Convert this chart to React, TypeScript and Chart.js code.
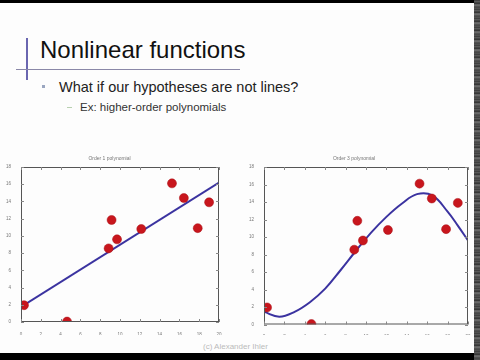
import React, { useEffect, useRef } from "react";
import { Chart, registerables } from "chart.js";

Chart.register(...registerables);

const pointsX = [0.3, 4.65, 8.85, 9.15, 9.7, 12.15, 15.25, 16.45, 17.85, 19.0];
const pointsY = [1.95, 0.05, 8.55, 11.85, 9.6, 10.8, 16.1, 14.4, 10.9, 13.9];

const lineX = [0, 20];
const lineY = [1.75, 16.2];

const curveX = [0, 1.5, 3, 4.5, 6, 7.5, 9, 10.5, 12, 13.5, 15, 16.5, 18, 19, 20];
const curveY = [1.45, 0.9, 1.45, 2.55, 4.1, 6.2, 8.4, 10.5, 12.3, 13.8, 14.9, 14.75, 12.9, 11.3, 9.6];

const xTicks = [0, 2, 4, 6, 8, 10, 12, 14, 16, 18, 20];
const yTicks = [0, 2, 4, 6, 8, 10, 12, 14, 16, 18];

const titles = ["Order 1 polynomial", "Order 3 polynomial"];

const boxPlugin = {
  id: "matlabBox",
  afterDraw(chart: any) {
    const { ctx, chartArea: a, scales } = chart;
    ctx.save();
    ctx.strokeStyle = "#555";
    ctx.lineWidth = 1;
    ctx.strokeRect(a.left + 0.5, a.top + 0.5, a.right - a.left - 1, a.bottom - a.top - 1);
    ctx.strokeStyle = "#888";
    xTicks.forEach((t) => {
      const px = Math.round(scales.x.getPixelForValue(t)) + 0.5;
      ctx.beginPath();
      ctx.moveTo(px, a.bottom);
      ctx.lineTo(px, a.bottom - 3);
      ctx.moveTo(px, a.top);
      ctx.lineTo(px, a.top + 3);
      ctx.stroke();
    });
    yTicks.forEach((t) => {
      const py = Math.round(scales.y.getPixelForValue(t)) + 0.5;
      ctx.beginPath();
      ctx.moveTo(a.left, py);
      ctx.lineTo(a.left + 3, py);
      ctx.moveTo(a.right, py);
      ctx.lineTo(a.right - 3, py);
      ctx.stroke();
    });
    ctx.restore();
  },
};

function makeConfig(fitX: number[], fitY: number[], title: string, yW: number, xH: number, padR: number, tension: number) {
  return {
    type: "scatter" as const,
    data: {
      datasets: [
        {
          type: "line" as const,
          data: fitX.map((x, i) => ({ x, y: fitY[i] })),
          borderColor: "#3b33a0",
          borderWidth: 2,
          pointRadius: 0,
          tension,
          fill: false,
          order: 2,
        },
        {
          data: pointsX.map((x, i) => ({ x, y: pointsY[i] })),
          backgroundColor: "#c8161d",
          borderColor: "#a80e14",
          borderWidth: 0.5,
          pointRadius: 4.5,
          order: 1,
        },
      ],
    },
    options: {
      animation: false as const,
      responsive: false,
      maintainAspectRatio: false,
      layout: { padding: { left: 0, right: padR, top: 0, bottom: 0 } },
      plugins: {
        legend: { display: false },
        tooltip: { enabled: false },
        title: {
          display: true,
          text: title,
          color: "#777",
          font: { size: 5, family: "Liberation Sans", weight: "normal" as const },
          padding: { top: 6, bottom: 5 },
        },
      },
      scales: {
        x: {
          type: "linear" as const,
          min: 0,
          max: 20,
          afterBuildTicks: (s: any) => {
            s.ticks = xTicks.map((v) => ({ value: v }));
          },
          afterFit: (s: any) => {
            s.height = xH;
          },
          grid: { display: false },
          border: { display: false },
          ticks: { color: "#777", font: { size: 4.5, family: "Liberation Sans" }, padding: 2, maxRotation: 0, autoSkip: false },
        },
        y: {
          type: "linear" as const,
          min: 0,
          max: 18,
          afterBuildTicks: (s: any) => {
            s.ticks = yTicks.map((v) => ({ value: v }));
          },
          afterFit: (s: any) => {
            s.width = yW;
          },
          grid: { display: false },
          border: { display: false },
          ticks: { color: "#777", font: { size: 4.5, family: "Liberation Sans" }, padding: 2, autoSkip: false },
        },
      },
    },
    plugins: [boxPlugin],
  };
}

function ChartCanvas({ cfg, style }: { cfg: any; style: React.CSSProperties }) {
  const ref = useRef<HTMLCanvasElement>(null);
  useEffect(() => {
    const c = new Chart(ref.current as HTMLCanvasElement, cfg);
    return () => c.destroy();
  }, []);
  return <canvas ref={ref} width={style.width as number} height={style.height as number} style={{ position: "absolute", ...style }} />;
}

export default function App() {
  const font = "'Liberation Sans', Arial, sans-serif";
  return (
    <div
      style={{
        position: "fixed",
        left: 0,
        top: 0,
        width: 480,
        height: 360,
        background: "#fdfdfd",
        overflow: "hidden",
        fontFamily: font,
      }}
    >
      <div style={{ position: "absolute", left: 0, top: 0, width: 480, height: 3, background: "#000" }} />
      <div style={{ position: "absolute", left: 0, top: 353, width: 480, height: 7, background: "#000" }} />
      <div
        style={{
          position: "absolute",
          left: 474,
          top: 0,
          width: 6,
          height: 360,
          background:
            "repeating-linear-gradient(180deg, #333 0px, #666 2px, #222 3px, #777 5px, #444 7px, #555 9px)",
        }}
      />
      <div style={{ position: "absolute", left: 26, top: 38, width: 2, height: 42, background: "#6a66b0" }} />
      <div style={{ position: "absolute", left: 16, top: 69, width: 224, height: 1, background: "#8a88a8" }} />
      <div style={{ position: "absolute", left: 40, top: 35, fontSize: 24, color: "#111", whiteSpace: "nowrap", lineHeight: "30px" }}>
        Nonlinear functions
      </div>
      <div style={{ position: "absolute", left: 42, top: 85, width: 3, height: 3, background: "#9aa6c0" }} />
      <div style={{ position: "absolute", left: 59, top: 78, fontSize: 14.5, color: "#222", whiteSpace: "nowrap", lineHeight: "18px" }}>
        What if our hypotheses are not lines?
      </div>
      <div style={{ position: "absolute", left: 67, top: 107, width: 5, height: 1, background: "#b8d0b0" }} />
      <div style={{ position: "absolute", left: 80, top: 100, fontSize: 11.5, color: "#333", whiteSpace: "nowrap", lineHeight: "14px" }}>
        Ex: higher-order polynomials
      </div>
      <ChartCanvas
        cfg={makeConfig(lineX, lineY, titles[0], 21, 13, 13, 0)}
        style={{ left: 0, top: 150, width: 232, height: 185 }}
      />
      <ChartCanvas
        cfg={makeConfig(curveX, curveY, titles[1], 24, 10.5, 6, 0.4)}
        style={{ left: 240, top: 150, width: 234, height: 185 }}
      />
      <div style={{ position: "absolute", left: 203, top: 342, fontSize: 8, color: "#bbb", whiteSpace: "nowrap" }}>
        (c) Alexander Ihler
      </div>
    </div>
  );
}
